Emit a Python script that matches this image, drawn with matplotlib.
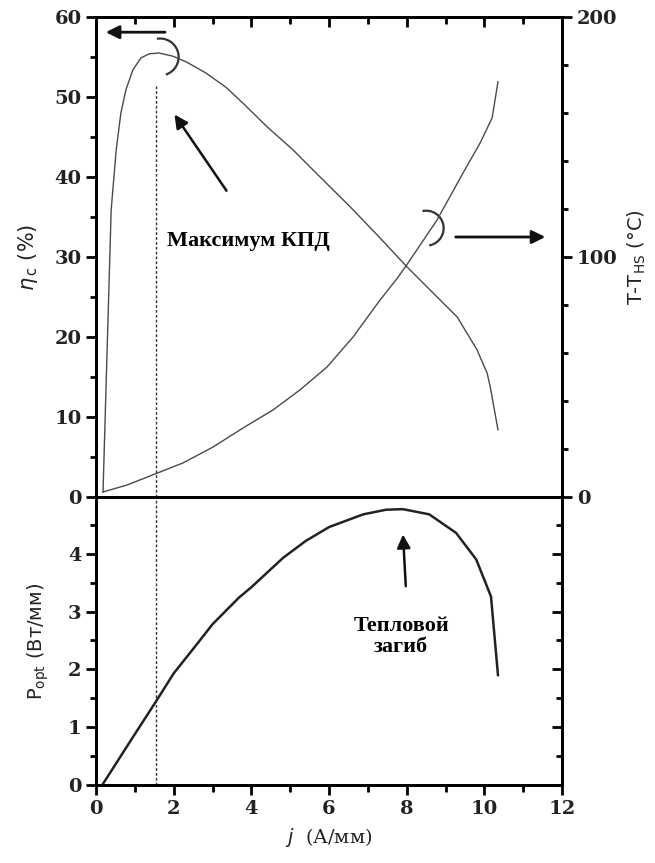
import matplotlib.pyplot as plt
from matplotlib.patches import Arc
from matplotlib.ticker import MultipleLocator, NullFormatter
from matplotlib.transforms import ScaledTranslation

# efficiency, % (left axis of upper panel)
j_eta = [0.18, 0.39, 0.52, 0.64, 0.77, 0.95, 1.16, 1.37, 1.62, 1.98, 2.32, 2.83, 3.35,
         3.79, 4.40, 5.07, 5.77, 6.54, 7.31, 8.0, 8.68, 9.30, 9.81, 10.07, 10.15, 10.35]
eta = [0.6, 35.9, 43.4, 48.0, 50.9, 53.4, 54.9, 55.4, 55.5, 55.1, 54.4, 53.0, 51.2,
       49.2, 46.3, 43.4, 40.0, 36.3, 32.4, 28.8, 25.5, 22.5, 18.4, 15.5, 13.8, 8.4]

# overheating T - T_HS, deg C (right axis of upper panel)
j_temp = [0.18, 0.8, 1.52, 2.24, 3.01, 3.79, 4.56, 5.25, 5.95, 6.62, 7.31, 7.75, 8.0,
          8.78, 9.45, 9.89, 10.2, 10.35]
temp = [2.1, 5.0, 9.6, 14.2, 20.8, 28.8, 36.3, 44.6, 54.2, 66.7, 82.0, 91.0, 96.7,
        115.4, 135.0, 147.5, 158.0, 173.0]

# optical power, W/mm (lower panel)
j_pow = [0.18, 1.0, 1.54, 2.0, 2.58, 3.0, 3.68, 4.0, 4.82, 5.4, 6.0, 6.88, 7.47, 7.9,
         8.58, 9.27, 9.79, 10.17, 10.35]
power = [0.02, 0.88, 1.44, 1.93, 2.42, 2.78, 3.24, 3.42, 3.93, 4.22, 4.46, 4.68, 4.76, 4.77,
         4.68, 4.36, 3.9, 3.26, 1.9]

j_max_eff = 1.545
eta_max_line = 51.5

tick_font = {'family': 'DejaVu Serif', 'weight': 'bold', 'size': 14}
note_font = {'family': 'Liberation Serif', 'weight': 'bold', 'size': 16}

fig = plt.figure(figsize=(6.55, 8.63), dpi=100)
ax = fig.add_axes([0.1466, 0.4241, 0.7115, 0.5562])
ax2 = ax.twinx()
axb = fig.add_axes([0.1466, 0.0904, 0.7115, 0.3337])
axb2 = axb.twinx()

for a in (ax, ax2, axb, axb2):
    for s in a.spines.values():
        s.set_linewidth(2)


def bracket(axis, x, y, r, t1, t2):
    # round bracket of radius r (inches) around a data point
    tr = fig.dpi_scale_trans + ScaledTranslation(x, y, axis.transData)
    axis.add_patch(Arc((0, 0), 2 * r, 2 * r, theta1=t1, theta2=t2,
                       transform=tr, color='#333333', lw=1.6))


# upper panel
ax.plot(j_eta, eta, color='#4a4a4a', lw=1.0)
ax2.plot(j_temp, temp, color='#4a4a4a', lw=1.0)
ax.plot([j_max_eff, j_max_eff], [0, eta_max_line], color='#333333', lw=1.0, ls=(0, (2, 1.5)))

ax.set_xlim(0, 12)
ax.set_ylim(0, 60)
ax2.set_ylim(0, 200)
ax.xaxis.set_major_locator(MultipleLocator(2))
ax.xaxis.set_minor_locator(MultipleLocator(1))
ax.yaxis.set_major_locator(MultipleLocator(10))
ax.yaxis.set_minor_locator(MultipleLocator(5))
ax2.yaxis.set_major_locator(MultipleLocator(100))
ax2.yaxis.set_minor_locator(MultipleLocator(20))

ax.tick_params(axis='x', which='both', top=True, bottom=True, labelbottom=False, direction='out', width=2)
ax.tick_params(axis='x', which='major', length=7)
ax.tick_params(axis='x', which='minor', length=5)
ax.tick_params(axis='y', which='major', direction='out', length=7, width=2)
ax.tick_params(axis='y', which='minor', direction='out', length=4, width=2)
ax2.tick_params(axis='y', which='major', direction='out', length=7, width=2)
ax2.tick_params(axis='y', which='minor', direction='out', length=4, width=2)
# top spine ticks point inward
for t in ax.xaxis.get_major_ticks() + ax.xaxis.get_minor_ticks():
    t.tick2line.set_marker(3)

for lab in ax.get_yticklabels() + ax2.get_yticklabels():
    lab.set_fontproperties(tick_font)
    lab.set_color('#222222')

ax.set_ylabel(r'$\eta_{\,\mathrm{c}}$ (%)', fontsize=15, labelpad=10, color='#222222')
ax2.set_ylabel(r'T-T$_{\mathrm{HS}}$ ($\degree$C)', fontsize=14, labelpad=6, color='#222222')

# arrows and brackets pointing to the axes
ax.annotate('', xy=(0.18, 58.1), xytext=(1.85, 58.1),
            arrowprops=dict(arrowstyle='-|>', color='#111111', lw=2, mutation_scale=20))
bracket(ax, 1.65, 55.0, 0.185, -72, 100)
ax.annotate('', xy=(11.64, 32.5), xytext=(9.19, 32.5),
            arrowprops=dict(arrowstyle='-|>', color='#111111', lw=2, mutation_scale=20))
bracket(ax, 8.5, 33.6, 0.175, -80, 102)

ax.annotate('', xy=(1.98, 48.1), xytext=(3.4, 38.0),
            arrowprops=dict(arrowstyle='-|>', color='#111111', lw=1.8, mutation_scale=20))
ax.text(1.82, 32.0, 'Максимум КПД', fontdict=note_font, va='center', ha='left')

# lower panel
axb.plot(j_pow, power, color='#222222', lw=1.8)
axb.plot([j_max_eff, j_max_eff], [0, 5], color='#333333', lw=1.0, ls=(0, (2, 1.5)))
axb.set_xlim(0, 12)
axb.set_ylim(0, 4.98)
axb2.set_ylim(0, 4.98)
axb.xaxis.set_major_locator(MultipleLocator(2))
axb.xaxis.set_minor_locator(MultipleLocator(1))
for a in (axb, axb2):
    a.yaxis.set_major_locator(MultipleLocator(1))
    a.yaxis.set_minor_locator(MultipleLocator(0.5))
axb.tick_params(axis='x', which='major', direction='out', length=7, width=2, top=False)
axb.tick_params(axis='x', which='minor', direction='out', length=5, width=2, top=False)
axb.tick_params(axis='y', which='major', direction='out', length=7, width=2)
axb.tick_params(axis='y', which='minor', direction='out', length=4, width=2)
# right side: inward ticks without labels
axb2.tick_params(axis='y', which='major', direction='in', length=7, width=2)
axb2.tick_params(axis='y', which='minor', direction='in', length=4, width=2)
axb2.yaxis.set_major_formatter(NullFormatter())

for lab in axb.get_xticklabels() + axb.get_yticklabels():
    lab.set_fontproperties(tick_font)
    lab.set_color('#222222')

axb.set_ylabel(r'P$_{\mathrm{opt}}$ (Вт/мм)', fontsize=14, labelpad=12, color='#222222')
axb.set_xlabel(r'$j$  (А/мм)', fontsize=14, family='DejaVu Serif', labelpad=6, color='#222222')

axb.annotate('', xy=(7.9, 4.38), xytext=(7.98, 3.39),
             arrowprops=dict(arrowstyle='-|>', color='#111111', lw=1.8, mutation_scale=20))
axb.text(7.86, 2.57, 'Тепловой\nзагиб', fontdict=note_font, va='center', ha='center', linespacing=1.1)

fig.savefig('out.png', dpi=100)
